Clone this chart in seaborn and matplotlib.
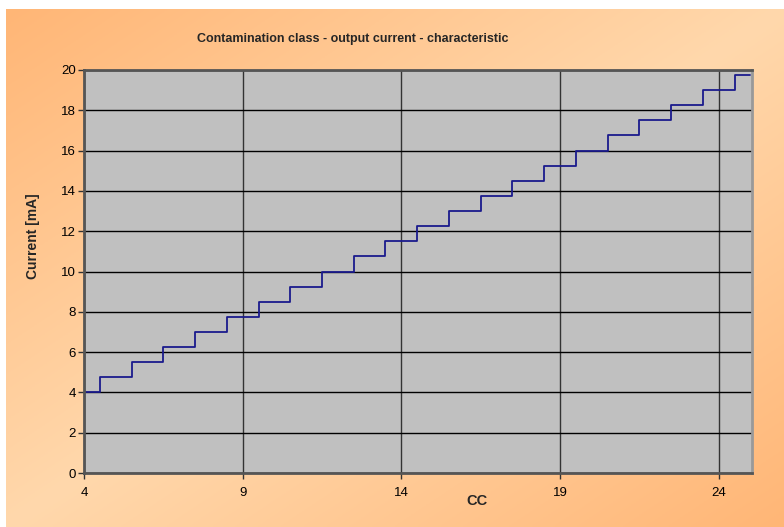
import numpy as np
import pandas as pd
import seaborn as sns
import matplotlib.pyplot as plt

# contamination class vs output current
cc = [4, 5, 6, 7, 8, 9, 10, 11, 12, 13, 14, 15, 16, 17, 18, 19, 20, 21, 22, 23, 24, 25]
current = [4.0, 4.75, 5.5, 6.25, 7.0, 7.75, 8.5, 9.25, 10.0, 10.75, 11.5,
           12.25, 13.0, 13.75, 14.5, 15.25, 16.0, 16.75, 17.5, 18.25, 19.0, 19.75]
x_ticks = [4, 9, 14, 19, 24]
y_ticks = [0, 2, 4, 6, 8, 10, 12, 14, 16, 18, 20]

df = pd.DataFrame({'CC': cc, 'Current': current})

sns.set_style('white')
plt.rcParams['font.family'] = ['Liberation Sans', 'DejaVu Sans']

W, H = 784, 527
fig = plt.figure(figsize=(W / 100, H / 100), dpi=100)
fig.patch.set_facecolor('white')

# gradient background (orange corners, lighter along the diagonal)
bg = fig.add_axes([6 / W, 0, 1 - 6 / W, (H - 9) / H])
gx, gy = np.meshgrid(np.linspace(0, 1, 300), np.linspace(0, 1, 200))
t = np.abs((gx + gy) - 1.0)
orange = np.array([255, 182, 118]) / 255
light = np.array([255, 216, 172]) / 255
img = light[None, None, :] + (orange - light)[None, None, :] * t[..., None]
bg.imshow(img, aspect='auto', extent=[0, 1, 0, 1], origin='upper')
bg.set_axis_off()

left, right, top, bottom = 84, 752, 70, 473
ax = fig.add_axes([left / W, 1 - bottom / H, (right - left) / W, (bottom - top) / H])
ax.set_facecolor('#C0C0C0')

sns.lineplot(data=df, x='CC', y='Current', ax=ax, color='#1A1A8C',
             linewidth=1.3, drawstyle='steps-mid')

ax.set_xlim(4, 25.05)
ax.set_ylim(0, 20)
ax.set_xticks(x_ticks)
ax.set_yticks(y_ticks)
ax.grid(True, color='black', linewidth=1.0)
ax.xaxis.grid(True, color='#333333', linewidth=1.0)
ax.set_axisbelow(True)

for s in ['top', 'bottom', 'left']:
    ax.spines[s].set_color('#555555')
    ax.spines[s].set_linewidth(2)
ax.spines['right'].set_color('#999999')
ax.spines['right'].set_linewidth(2)

ax.tick_params(axis='both', direction='out', length=4, width=1, color='#333333',
               labelsize=9.5, labelcolor='black', pad=2,
               bottom=True, left=True)
ax.tick_params(axis='x', pad=6)
ax.set_xlabel('')
ax.set_ylabel('')

fig.text(353 / W, 1 - 39 / H, 'Contamination class - output current - characteristic',
         ha='center', va='center', fontsize=9, fontweight='bold')
fig.text(33 / W, 1 - 236 / H, 'Current [mA]', ha='center', va='center',
         rotation=90, fontsize=10, fontweight='bold')
fig.text(477 / W, 1 - 501 / H, 'CC', ha='center', va='center',
         fontsize=10.5, fontweight='bold')

fig.savefig('out.png', dpi=100)
